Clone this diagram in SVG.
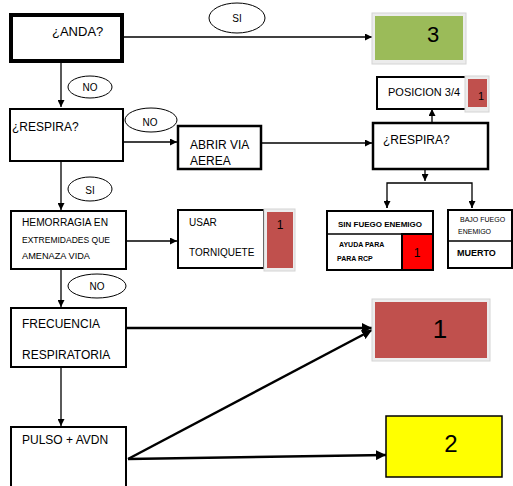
<svg xmlns="http://www.w3.org/2000/svg" width="513" height="486" viewBox="0 0 513 486">
<style>
text{font-family:"Liberation Sans",Arial,sans-serif;fill:#000}
.box{fill:#fff;stroke:#000;stroke-width:2}
.lbl{fill:#fff;stroke:#000;stroke-width:1}
.ln{fill:none;stroke:#000;stroke-width:1.3}
.thk{fill:none;stroke:#000;stroke-width:2.5}
.sh{fill:#ececec;stroke:#d4d4d4;stroke-width:1}
</style>
<defs>
<marker id="ah" viewBox="0 0 10 10" refX="10" refY="5" markerWidth="7" markerHeight="7" markerUnits="userSpaceOnUse" orient="auto"><path d="M0,0 L10,5 L0,10 z" fill="#000"/></marker>
<marker id="ah2" viewBox="0 0 10 10" refX="10" refY="5" markerWidth="4" markerHeight="4" orient="auto"><path d="M0,0 L10,5 L0,10 z" fill="#000"/></marker>
</defs>
<rect width="513" height="486" fill="#fff"/>
<g id="connectors">
<line class="ln" x1="124" y1="37" x2="372" y2="37" marker-end="url(#ah)"/>
<line class="ln" x1="61" y1="62" x2="61" y2="107" marker-end="url(#ah)"/>
<line class="ln" x1="124" y1="142" x2="177" y2="142" marker-end="url(#ah)"/>
<line class="ln" x1="262" y1="143" x2="372" y2="143" marker-end="url(#ah)"/>
<line class="ln" x1="432" y1="123" x2="432" y2="109" marker-end="url(#ah)"/>
<line class="ln" x1="425" y1="169" x2="425" y2="181" marker-end="url(#ah)"/>
<polyline class="ln" points="387,208 387,183 472,183 472,208"/>
<line class="ln" x1="387" y1="200" x2="387" y2="208" marker-end="url(#ah)"/>
<line class="ln" x1="472" y1="200" x2="472" y2="208" marker-end="url(#ah)"/>
<line class="ln" x1="61" y1="162" x2="61" y2="210" marker-end="url(#ah)"/>
<line class="ln" x1="127" y1="241" x2="177" y2="241" marker-end="url(#ah)"/>
<line class="ln" x1="61" y1="270" x2="61" y2="307" marker-end="url(#ah)"/>
<line class="ln" x1="61" y1="368" x2="61" y2="426" marker-end="url(#ah)"/>
<line class="thk" x1="127" y1="328" x2="372" y2="328" marker-end="url(#ah2)"/>
<line class="thk" x1="128" y1="459" x2="372" y2="330" marker-end="url(#ah2)"/>
<line class="thk" x1="128" y1="459" x2="386" y2="455" marker-end="url(#ah2)"/>
</g>
<g id="lbl-si1"><ellipse class="lbl" cx="237" cy="18" rx="28" ry="15"/><text x="237" y="22" font-size="10" text-anchor="middle">SI</text></g>
<g id="lbl-no1"><ellipse class="lbl" cx="90" cy="87" rx="22" ry="11"/><text x="90" y="91" font-size="10" text-anchor="middle">NO</text></g>
<g id="lbl-no2"><ellipse class="lbl" cx="151" cy="120" rx="26" ry="12"/><text x="150" y="126" font-size="10" text-anchor="middle">NO</text></g>
<g id="lbl-si2"><ellipse class="lbl" cx="90" cy="189" rx="22" ry="12"/><text x="90" y="194" font-size="10" text-anchor="middle">SI</text></g>
<g id="lbl-no3"><ellipse class="lbl" cx="97" cy="286" rx="29" ry="12"/><text x="97" y="290" font-size="10" text-anchor="middle">NO</text></g>
<g id="anda"><rect x="11" y="15" width="111" height="46" fill="#fff" stroke="#000" stroke-width="4"/><text x="52" y="36" font-size="13">¿ANDA?</text></g>
<g id="verde3"><rect class="sh" x="372" y="13" width="94" height="51"/><rect x="375" y="16" width="88" height="44" fill="#9BBB59"/><text x="433" y="42" font-size="22" text-anchor="middle">3</text></g>
<g id="respira1"><rect class="box" x="10" y="109" width="113" height="52"/><text x="12" y="131" font-size="12">¿RESPIRA?</text></g>
<g id="abrir"><rect x="178" y="126" width="83" height="43" fill="#fff" stroke="#000" stroke-width="2.5"/><text x="190" y="149" font-size="12">ABRIR VIA</text><text x="190" y="165" font-size="12">AEREA</text></g>
<g id="respira2"><rect x="373" y="123" width="115" height="46" fill="#fff" stroke="#000" stroke-width="2.5"/><text x="383" y="144" font-size="12">¿RESPIRA?</text></g>
<g id="posicion"><rect x="377" y="77" width="90" height="32" fill="#fff" stroke="#000" stroke-width="2"/><text x="388" y="96" font-size="11">POSICION 3/4</text></g>
<g id="rojo-pos"><rect class="sh" x="465" y="76" width="24" height="36"/><rect x="468" y="79" width="19" height="28" fill="#C0504D"/><text x="481" y="100" font-size="11" text-anchor="middle">1</text></g>
<g id="sinfuego"><rect x="327" y="211" width="106" height="59" fill="#fff" stroke="#000" stroke-width="2"/><line x1="327" y1="234" x2="433" y2="234" stroke="#000" stroke-width="1.5"/><rect x="402" y="234" width="31" height="36" fill="#FF0000" stroke="#000" stroke-width="2"/><text x="380" y="227" font-size="8" font-weight="bold" text-anchor="middle" textLength="84" lengthAdjust="spacingAndGlyphs">SIN FUEGO ENEMIGO</text><text x="339" y="247" font-size="7" font-weight="bold">AYUDA PARA</text><text x="337" y="261" font-size="7" font-weight="bold">PARA RCP</text><text x="417" y="257" font-size="12" text-anchor="middle">1</text></g>
<g id="bajofuego"><rect x="448" y="210" width="64" height="58" fill="#fff" stroke="#000" stroke-width="2"/><line x1="448" y1="241" x2="512" y2="241" stroke="#000" stroke-width="1.5"/><text x="460" y="222" font-size="7">BAJO FUEGO</text><text x="458" y="234" font-size="7">ENEMIGO</text><text x="457" y="256" font-size="9" font-weight="bold">MUERTO</text></g>
<g id="hemorragia"><rect class="box" x="11" y="211" width="115" height="58"/><text x="22" y="226" font-size="10" textLength="86" lengthAdjust="spacingAndGlyphs">HEMORRAGIA EN</text><text x="22" y="243" font-size="9" textLength="88" lengthAdjust="spacingAndGlyphs">EXTREMIDADES QUE</text><text x="22" y="259" font-size="9" textLength="68" lengthAdjust="spacingAndGlyphs">AMENAZA VIDA</text></g>
<g id="usar"><rect class="box" x="178" y="210" width="86" height="58"/><text x="189" y="226" font-size="10">USAR</text><text x="189" y="256" font-size="10">TORNIQUETE</text></g>
<g id="rojo-usar"><rect class="sh" x="264" y="209" width="31" height="62"/><rect x="267" y="212" width="26" height="56" fill="#C0504D"/><text x="280" y="229" font-size="12" text-anchor="middle">1</text></g>
<g id="frecuencia"><rect class="box" x="11" y="308" width="115" height="59"/><text x="22" y="328" font-size="12">FRECUENCIA</text><text x="22" y="359" font-size="12">RESPIRATORIA</text></g>
<g id="rojo1"><rect class="sh" x="372" y="299" width="118" height="62"/><rect x="375" y="302" width="112" height="56" fill="#C0504D"/><text x="440" y="338" font-size="26" text-anchor="middle">1</text></g>
<g id="pulso"><rect class="box" x="11" y="427" width="115" height="60"/><text x="22" y="444" font-size="12">PULSO + AVDN</text></g>
<g id="amarillo2"><rect x="386" y="416" width="116" height="61" fill="#FFFF00" stroke="#000" stroke-width="1.5"/><text x="451" y="452" font-size="24" text-anchor="middle">2</text></g>
</svg>
